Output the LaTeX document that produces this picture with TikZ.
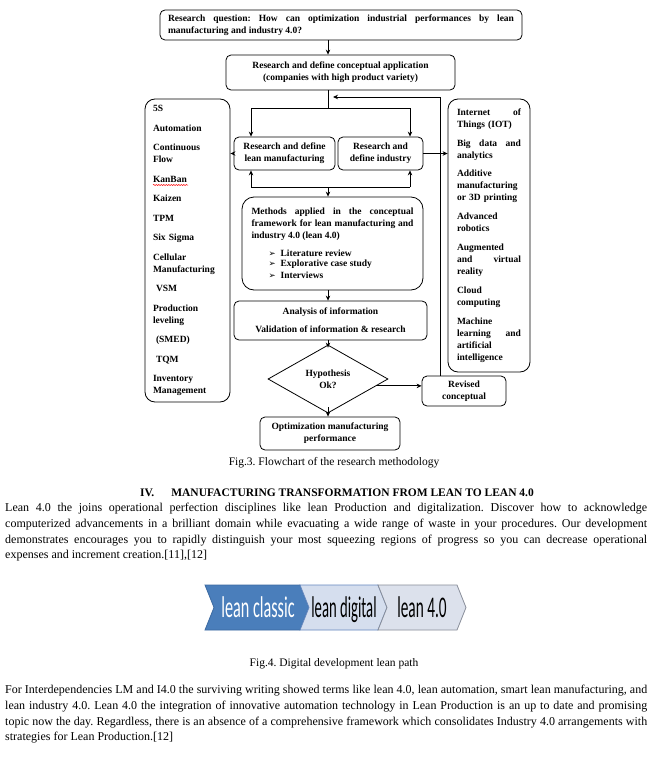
\documentclass[tikz,border=0pt]{standalone}
\usepackage{fontspec}
\setmainfont{Liberation Serif}
\newfontfamily\chevfont{Carlito}
\newfontfamily\symfont{DejaVu Sans}
\usepackage{graphicx}
\usetikzlibrary{arrows.meta,shapes.geometric,calc,decorations.pathmorphing}
\frenchspacing

\newcommand{\flowfont}{\fontsize{9.5}{12}\selectfont\bfseries}
\newcommand{\bodyfont}{\fontsize{12}{15.7}\selectfont}
\newcommand{\arrowbullet}{{\symfont\fontsize{8.5}{8.5}\selectfont ➢}\hspace{5pt}}

\tikzset{
    box/.style={draw, line width=0.8pt, rounded corners=5pt, inner sep=0pt, font=\flowfont},
    arr/.style={line width=1pt, -{Stealth[length=5pt, width=4.5pt]}},
    plain/.style={line width=1pt},
    body/.style={inner sep=0pt, text width=642pt, align=justify, font=\bodyfont},
    chevtext/.style={inner sep=0pt, anchor=base, font=\chevfont\fontsize{30}{30}\selectfont}
}

\begin{document}
\begin{tikzpicture}[x=1pt, y=-1pt]
    \useasboundingbox[fill=white] (0, 0) rectangle (668, 760);
    \coordinate (sp) at (328, 0);

    % flowchart
    \node[box, minimum width=362pt, minimum height=30pt, text width=346pt, align=justify] (quest) at (341, 25)
        {Research question: How can optimization industrial performances by lean\linebreak manufacturing and industry 4.0?};
    \node[box, minimum width=229pt, minimum height=35pt, align=center] (concept) at (340.5, 72.5)
        {Research and define conceptual application\\(companies with high product variety)};
    \node[box, minimum width=101pt, minimum height=33pt, align=center] (lean) at (284.5, 153.5)
        {Research and define\\lean manufacturing};
    \node[box, minimum width=85pt, minimum height=33pt, align=center] (ind) at (380.5, 153.5)
        {Research and\\define industry};
    \node[box, rounded corners=12pt, minimum width=181pt, minimum height=93pt, text width=162pt, align=justify] (methods) at (332.5, 243.5)
        {Methods applied in the conceptual\linebreak framework for lean manufacturing and\linebreak industry 4.0 (lean 4.0)\par
        \vspace{7pt}\fontsize{9.5}{10.5}\selectfont
        \hspace*{17pt}\arrowbullet Literature review\par
        \hspace*{17pt}\arrowbullet Explorative case study\par
        \hspace*{17pt}\arrowbullet Interviews};
    \node[box, minimum width=193pt, minimum height=39pt, align=center] (analysis) at (330.5, 320.5)
        {Analysis of information\\[6pt]Validation of information \& research};
    \node[draw, line width=0.8pt, shape=diamond, minimum width=120pt, minimum height=68pt, inner sep=0pt, font=\flowfont, align=center] (hyp) at (328, 379)
        {Hypothesis\\Ok?};
    \node[box, minimum width=84pt, minimum height=30pt, align=center] (rev) at (464, 391)
        {Revised\\conceptual};
    \node[box, minimum width=140pt, minimum height=33pt, align=center] (optim) at (330, 433.5)
        {Optimization manufacturing\\performance};

    % side lists
    \node[box, rounded corners=10pt, minimum width=85pt, minimum height=303pt, text width=69pt, align=left] (lbox) at (187.5, 250.5)
        {5S\\[7.5pt]Automation\\[7.5pt]Continuous\\Flow\\[7.5pt]KanBan\\[7.5pt]Kaizen\\[7.5pt]TPM\\[7.5pt]Six Sigma\\[7.5pt]Cellular\\Manufacturing\\[7.5pt]
        \hspace*{3pt}VSM\\[7.5pt]Production\\leveling\\[7.5pt]\hspace*{3pt}(SMED)\\[7.5pt]\hspace*{3pt}TQM\\[7.5pt]Inventory\\Management};
    \draw[red, line width=0.5pt, decorate, decoration={snake, amplitude=0.6pt, segment length=2.5pt}] (153, 185) -- (188, 185);
    \node[box, rounded corners=10pt, minimum width=82pt, minimum height=273pt, text width=64pt, align=left] (rbox) at (489, 235.5)
        {Internet\hfill of\\Things (IOT)\\[6.8pt]Big\hfill data\hfill and\\analytics\\[6.8pt]Additive\\manufacturing\\or 3D printing\\[6.8pt]Advanced\\robotics\\[6.8pt]
        Augmented\\and\hfill virtual\\reality\\[6.8pt]Cloud\\computing\\[6.8pt]Machine\\learning\hfill and\\artificial\\intelligence};

    % connectors
    \coordinate (tl) at (251, 108);
    \coordinate (tr) at (410, 108);
    \coordinate (bl) at (251, 187);
    \coordinate (br) at (410, 187);
    \coordinate (fb) at (333, 97);
    \draw[arr] (quest.south -| sp) -- (concept.north -| sp);
    \draw[plain] (concept.south -| sp) -- (tl -| sp);
    \draw[plain] (tl) -- (tr);
    \draw[arr] (tl) -- (tl |- lean.north);
    \draw[arr] (tr) -- (tr |- ind.north);
    \draw[plain] (bl) -- (br);
    \draw[arr] (bl) -- (bl |- lean.south);
    \draw[arr] (br) -- (br |- ind.south);
    \draw[arr] (bl -| sp) -- (methods.north -| sp);
    \draw[arr] (lean.west) -- (lbox.east |- lean.west);
    \draw[arr] (ind.east) -- (rbox.west |- ind.east);
    \draw[arr] (methods.south -| sp) -- (analysis.north -| sp);
    \draw[arr] (analysis.south -| sp) -- ([yshift=-3pt]hyp.north);
    \draw[arr] ([yshift=6pt]hyp.south) -- (optim.north -| hyp.south);
    \coordinate (hp) at ($(hyp.east)!0.2!(hyp.south)$);
    \draw[arr] (hp) -- (hp -| rev.west);
    \draw[arr] ([xshift=-24pt]rev.north) |- (fb);

    \node[font=\fontsize{11.5}{14}\selectfont] (cap3) at (334, 463) {Fig.3. Flowchart of the research methodology};

    % section text
    \node[font=\fontsize{11.5}{14}\selectfont\bfseries] (head) at (337, 493)
        {IV.\hspace{17pt}MANUFACTURING TRANSFORMATION FROM LEAN TO LEAN 4.0};
    \node[body, anchor=north west] (para1) at (5, 503)
        {Lean 4.0 the joins operational perfection disciplines like lean Production and digitalization. Discover how to acknowledge\linebreak
        computerized advancements in a brilliant domain while evacuating a wide range of waste in your procedures. Our development\linebreak
        demonstrates encourages you to rapidly distinguish your most squeezing regions of progress so you can decrease operational\linebreak
        expenses and increment creation.[11],[12]};

    % lean path
    \draw[fill={rgb,255:red,74;green,126;blue,187}, draw={rgb,255:red,58;green,104;blue,160}, line width=0.8pt]
        (205, 585) -- (300, 585) -- (309, 607.5) -- (300, 630) -- (205, 630) -- (214, 607.5) -- cycle;
    \draw[fill={rgb,255:red,213;green,222;blue,238}, draw={rgb,255:red,100;green,135;blue,190}, line width=0.8pt]
        (300, 585) -- (378, 585) -- (387, 607.5) -- (378, 630) -- (300, 630) -- (309, 607.5) -- cycle;
    \draw[fill={rgb,255:red,220;green,225;blue,236}, draw={rgb,255:red,135;green,140;blue,152}, line width=0.8pt]
        (378, 585) -- (457, 585) -- (466, 607.5) -- (457, 630) -- (378, 630) -- (387, 607.5) -- cycle;
    \node[chevtext, text=white] (classic) at (258, 617) {\scalebox{0.54}[1]{lean classic}};
    \node[chevtext] (digital) at (344, 617) {\scalebox{0.49}[1]{lean digital}};
    \node[chevtext] (lfour) at (422, 617) {\scalebox{0.51}[1]{lean 4.0}};

    \node[font=\fontsize{11.5}{14}\selectfont] (cap4) at (334, 664) {Fig.4. Digital development lean path};

    \node[body, anchor=north west] (para2) at (5, 685)
        {For Interdependencies LM and I4.0 the surviving writing showed terms like lean 4.0, lean automation, smart lean manufacturing, and\linebreak
        lean industry 4.0. Lean 4.0 the integration of innovative automation technology in Lean Production is an up to date and promising\linebreak
        topic now the day. Regardless, there is an absence of a comprehensive framework which consolidates Industry 4.0 arrangements with\linebreak
        strategies for Lean Production.[12]};
\end{tikzpicture}
\end{document}
